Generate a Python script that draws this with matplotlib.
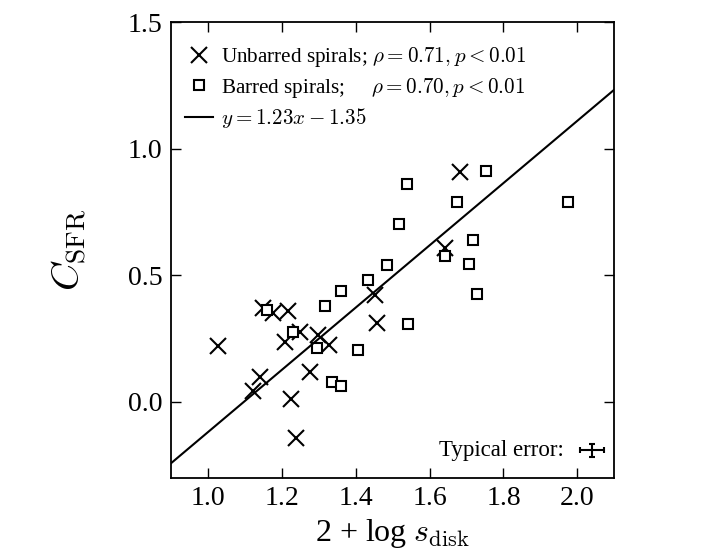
import numpy as np
import matplotlib
matplotlib.use("Agg")
import matplotlib.pyplot as plt

plt.rcParams['font.family'] = ['Liberation Serif', 'DejaVu Serif']
plt.rcParams['mathtext.fontset'] = 'cm'

# unbarred spirals
unb_x = [1.682, 1.642, 1.452, 1.457, 1.150, 1.176, 1.218, 1.026, 1.208,
         1.250, 1.299, 1.328, 1.141, 1.122, 1.275, 1.224, 1.238]
unb_y = [0.909, 0.606, 0.422, 0.312, 0.370, 0.349, 0.360, 0.222, 0.237,
         0.277, 0.264, 0.224, 0.099, 0.043, 0.116, 0.009, -0.142]

# barred spirals
bar_x = [1.540, 1.517, 1.484, 1.434, 1.361, 1.317, 1.160, 1.541, 1.229, 1.295,
         1.405, 1.335, 1.361, 1.754, 1.673, 1.975, 1.718, 1.642, 1.708, 1.729]
bar_y = [0.859, 0.701, 0.540, 0.481, 0.439, 0.378, 0.362, 0.306, 0.275, 0.211,
         0.204, 0.079, 0.062, 0.913, 0.788, 0.788, 0.639, 0.576, 0.544, 0.424]

slope, intercept = 1.23, -1.35
err_pos = (2.039, -0.191)
err_size = (0.033, 0.026)

fig = plt.figure(figsize=(7.13, 5.51), dpi=100)
ax = fig.add_axes([0.2398, 0.133, 0.6218, 0.827])

ax.plot(unb_x, unb_y, 'x', color='k', ms=11, mew=1.5,
        label=r'Unbarred spirals; $\rho = 0.71, p < 0.01$')
ax.plot(bar_x, bar_y, 's', mfc='w', mec='k', ms=7, mew=1.5,
        label=r'Barred spirals;     $\rho = 0.70, p < 0.01$')
xx = np.array([0.9, 2.1])
ax.plot(xx, slope * xx + intercept, 'k-', lw=1.5,
        label=r'$y = 1.23x - 1.35$')

ax.errorbar([err_pos[0]], [err_pos[1]], xerr=err_size[0], yerr=err_size[1],
            fmt='none', ecolor='k', elinewidth=1.5, capsize=2, capthick=1.5)
ax.text(1.963, err_pos[1], 'Typical error:', ha='right', va='center', fontsize=16.5)

ax.set_xlim(0.9, 2.1)
ax.set_ylim(-0.3, 1.5)
ax.set_xticks(np.arange(1.0, 2.01, 0.2))
ax.set_yticks([0.0, 0.5, 1.0, 1.5])
ax.xaxis.set_major_formatter(matplotlib.ticker.FormatStrFormatter('%.1f'))
ax.yaxis.set_major_formatter(matplotlib.ticker.FormatStrFormatter('%.1f'))
ax.tick_params(direction='in', top=True, right=True, length=7.5, width=1,
               labelsize=20, pad=6)
for s in ax.spines.values():
    s.set_linewidth(1.3)

ax.set_xlabel(r'2 + log $s_{\rm disk}$', fontsize=23)
ax.set_ylabel(r'$C_{\rm SFR}$', fontsize=28, labelpad=28)

ax.legend(loc='upper left', bbox_to_anchor=(-0.017, 0.995), frameon=False,
          fontsize=15.2, numpoints=1, handlelength=1.35, handletextpad=0.4,
          borderaxespad=0.6, labelspacing=0.3)

fig.savefig('out.png', dpi=100)
